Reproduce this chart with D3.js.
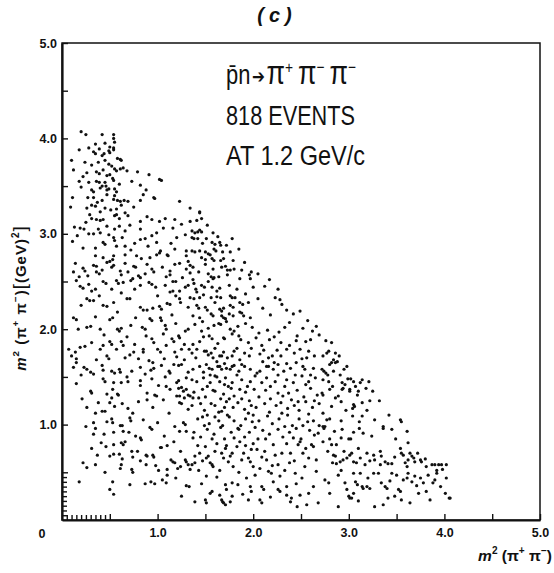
<!DOCTYPE html>
<html>
<head>
<meta charset="utf-8">
<script src="https://cdn.jsdelivr.net/npm/d3@7"></script>
<style>
  body { margin: 0; background: #fff; }
  svg { display: block; }
</style>
</head>
<body>
<svg id="chart" width="554" height="573"></svg>
<script>
// Dalitz plot of pbar n -> pi+ pi- pi- : each dot is one (m²(π+π−), m²(π+π−)) pair, GeV².
const upperLeft = [
  [0.20,4.07],[0.25,4.04],[0.42,4.04],[0.54,4.04],[0.54,4.00],[0.55,3.96],[0.35,3.94],[0.45,3.95],[0.50,3.91],[0.18,3.88],
  [0.33,3.86],[0.35,3.84],[0.39,3.89],[0.42,3.82],[0.49,3.87],[0.50,3.85],[0.54,3.88],[0.54,3.90],[0.58,3.79],[0.61,3.78],
  [0.62,3.77],[0.38,3.75],[0.45,3.77],[0.49,3.73],[0.52,3.71],[0.24,3.75],[0.55,3.68],[0.57,3.66],[0.61,3.68],[0.64,3.69],
  [0.68,3.66],[0.12,3.67],[0.26,3.64],[0.36,3.65],[0.39,3.63],[0.43,3.67],[0.47,3.61],[0.50,3.62],[0.53,3.58],[0.54,3.56],
  [0.79,3.65],[0.91,3.62],[1.02,3.57],[1.04,3.56],[0.18,3.55],[0.28,3.54],[0.36,3.55],[0.39,3.54],[0.45,3.54],[0.46,3.50],
  [0.73,3.55],[0.82,3.51],[0.20,3.49],[0.31,3.46],[0.33,3.44],[0.40,3.48],[0.42,3.50],[0.47,3.46],[0.49,3.47],[0.55,3.47],
  [0.57,3.44],[0.55,3.40],[0.11,3.38],[0.33,3.38],[0.42,3.35],[0.54,3.36],[0.58,3.35],[0.61,3.34],[0.65,3.35],[0.69,3.34],
  [0.82,3.35],[0.96,3.38],[0.97,3.37],[1.23,3.34],[0.09,3.28],[0.26,3.27],[0.31,3.30],[0.35,3.29],[0.45,3.27],[0.40,3.23],
  [0.57,3.26],[0.62,3.30],[0.29,3.20],[0.31,3.16],[0.36,3.15],[0.40,3.14],[0.43,3.15],[0.55,3.19],[0.57,3.20],[0.60,3.16],
  [0.69,3.19],[0.82,3.13],[0.89,3.18],[0.94,3.15],[1.02,3.13],[1.08,3.16],[1.18,3.15],[1.16,3.06],[0.19,3.06],[0.23,3.05],
  [0.28,3.00],[0.33,3.00],[0.38,3.05],[0.40,3.01],[0.47,3.08],[0.55,3.05],[0.60,3.08],[0.66,3.03],[0.71,3.09],[0.82,3.05],
  [0.87,2.95],[0.94,2.98],[0.99,3.01],[1.06,3.06],[1.20,2.96],[1.29,2.99],[0.11,2.92],[0.22,2.85],[0.35,2.85],[0.43,2.91],
  [0.45,2.89],[0.54,2.96],[0.55,2.93],[0.57,2.87],[0.66,2.87],[0.76,2.90],[0.82,2.94],[0.90,2.87],[0.99,2.91],[1.03,2.82],
  [1.10,2.78],[1.18,2.84],[1.30,2.82],[0.35,2.77],[0.43,2.75],[0.54,2.77],[0.66,2.78],[0.78,2.77],[0.92,2.75],[0.99,2.78],
  [1.11,2.77],[1.30,2.77],[0.10,3.77],[0.13,3.07],
  [0.28,3.90],[0.31,3.72],[0.22,3.60],[0.47,3.41],[0.37,3.33],[0.51,3.25],[0.66,3.22],[0.75,3.28],[0.85,3.41],[0.25,3.12],
  [0.16,2.98],[0.49,2.99],[0.63,2.96],[0.72,2.83],[1.14,2.90],[1.25,3.10],[0.88,3.46],[0.60,3.52],[0.27,3.38],[0.44,3.84]
];

const middleLeft = [
  [0.14,2.69],[0.12,2.60],[0.22,2.64],[0.24,2.61],[0.33,2.67],[0.36,2.66],[0.36,2.60],[0.39,2.58],[0.47,2.70],[0.50,2.71],
  [0.53,2.73],[0.52,2.65],[0.54,2.67],[0.61,2.61],[0.62,2.57],[0.69,2.60],[0.75,2.66],[0.77,2.65],[0.83,2.74],[0.89,2.68],
  [0.94,2.63],[0.96,2.60],[1.02,2.80],[1.13,2.61],[1.18,2.68],[1.23,2.69],[1.32,2.71],[1.30,2.63],[1.34,2.59],
  [0.19,2.45],[0.22,2.43],[0.15,2.51],[0.28,2.47],[0.31,2.40],[0.43,2.50],[0.46,2.48],[0.52,2.42],[0.57,2.51],[0.59,2.48],
  [0.64,2.49],[0.72,2.51],[0.74,2.53],[0.80,2.56],[0.82,2.54],[0.82,2.46],[0.91,2.49],[0.94,2.47],[0.98,2.44],[1.09,2.55],
  [1.13,2.57],[1.08,2.46],[1.16,2.50],[1.19,2.50],[1.13,2.39],[1.16,2.40],[1.23,2.40],[1.29,2.44],[1.32,2.46],
  [0.26,2.32],[0.29,2.30],[0.33,2.30],[0.39,2.35],[0.43,2.25],[0.47,2.24],[0.54,2.28],[0.68,2.32],[0.71,2.32],[0.82,2.23],
  [0.85,2.20],[0.89,2.20],[0.95,2.22],[1.02,2.24],[1.04,2.21],[1.10,2.27],[1.13,2.26],[1.23,2.32],[1.24,2.28],[1.32,2.23],
  [0.12,2.12],[0.15,2.10],[0.17,2.00],[0.26,2.02],[0.30,2.03],[0.40,2.00],[0.50,2.10],[0.53,2.12],[0.58,2.00],[0.60,1.98],
  [0.62,2.01],[0.72,2.04],[0.84,2.02],[0.87,2.00],[0.92,2.11],[0.94,2.09],[1.03,2.12],[1.04,2.09],[1.08,2.04],[1.09,2.00],
  [1.19,2.06],[1.22,1.93],[1.23,1.91],[1.29,1.98],[1.32,2.00],
  [0.07,1.79],[0.10,1.72],[0.14,1.76],[0.15,1.69],[0.19,1.81],[0.24,1.82],[0.12,1.60],[0.15,1.65],[0.23,1.60],[0.26,1.58],
  [0.40,1.79],[0.43,1.83],[0.50,1.87],[0.52,1.84],[0.47,1.72],[0.49,1.69],[0.57,1.79],[0.62,1.87],[0.64,1.83],[0.71,1.73],
  [0.75,1.76],[0.76,1.84],[0.85,1.79],[0.85,1.76],[0.94,1.90],[0.96,1.86],[1.00,1.79],[1.03,1.76],[0.91,1.67],[0.95,1.65],
  [1.09,1.83],[1.15,1.90],[1.17,1.87],[1.18,1.76],[1.20,1.71],[1.25,1.79],[1.28,1.84],[1.33,1.79],
  [0.30,1.55],[0.33,1.53],[0.42,1.62],[0.43,1.57],[0.52,1.56],[0.55,1.54],[0.60,1.58],[0.61,1.55],[0.73,1.56],[0.82,1.60],
  [0.93,1.57],[0.96,1.59],[1.04,1.62],[1.12,1.56],[1.13,1.54],[1.22,1.62],[1.25,1.63],[1.32,1.55],
  [0.43,1.48],[0.45,1.45],[0.54,1.44],[0.62,1.44],[0.82,1.46],[0.94,1.48],[1.22,1.46],[1.30,1.49],
  [0.18,2.55],[0.27,2.56],[0.42,2.62],[0.66,2.69],[0.87,2.58],[1.05,2.65],[1.26,2.54],[0.35,2.42],[0.62,2.38],[0.76,2.42],
  [1.00,2.35],[1.19,2.35],[0.20,2.25],[0.58,2.18],[0.77,2.12],[1.15,2.15],[0.35,2.13],[0.44,1.94],[0.68,1.92],[0.88,1.93],
  [1.06,1.95],[0.31,1.86],[0.66,1.70],[1.07,1.69],[1.28,1.68],[0.36,1.68],[0.20,1.52],[0.68,1.50],[0.87,1.53],[1.08,1.50],
  [1.17,1.63],[0.80,1.69]
];

const lowerLeft = [
  [0.15,1.43],[0.30,1.35],[0.31,1.33],[0.47,1.32],[0.52,1.28],[0.53,1.37],[0.58,1.32],[0.59,1.31],[0.69,1.45],[0.82,1.41],
  [0.89,1.33],[0.89,1.26],[0.97,1.31],[0.99,1.30],[1.01,1.41],[1.09,1.40],[1.13,1.37],[1.20,1.44],[1.22,1.38],[1.25,1.39],
  [1.27,1.35],[1.30,1.37],[1.32,1.31],[1.34,1.30],[1.28,1.28],[1.20,1.30],[1.23,1.30],[1.23,1.23],[1.25,1.22],[1.37,1.28],
  [1.32,1.16],[0.38,1.23],[0.50,1.23],[0.55,1.19],[0.35,1.12],[0.42,1.14],[0.45,1.14],[0.47,1.03],[0.52,1.06],[0.53,1.02],
  [0.61,0.99],[0.63,0.99],[0.69,1.17],[0.74,1.12],[0.71,1.07],[0.72,1.04],[0.33,1.02],[0.35,0.96],[0.33,0.90],[0.54,0.92],
  [0.64,0.93],[0.77,0.88],[0.82,0.86],[0.83,0.84],[0.92,0.97],[0.94,0.95],[1.23,0.93],[1.30,0.93],[1.27,1.02],[1.29,1.00],
  [1.37,0.86],[0.41,0.81],[0.46,0.77],[0.54,0.79],[0.62,0.81],[0.66,0.82],[0.64,0.79],[0.60,0.69],[0.50,0.67],[0.54,0.69],
  [0.31,0.75],[0.73,0.72],[0.79,0.72],[0.74,0.66],[0.63,0.64],[0.62,0.58],[0.61,0.54],[0.73,0.53],[0.74,0.50],[0.88,0.68],
  [0.89,0.67],[0.95,0.68],[0.96,0.66],[1.03,0.76],[1.04,0.76],[1.10,0.78],[0.88,0.58],[0.98,0.57],[1.01,0.52],[1.10,0.53],
  [1.10,0.47],[1.16,0.61],[1.18,0.60],[1.21,0.54],[1.24,0.56],[1.29,0.63],[1.30,0.61],[1.32,0.58],[1.34,0.53],[1.39,0.60],
  [1.14,0.63],[1.19,0.44],[0.22,0.60],[0.26,0.55],[0.35,0.58],[0.53,0.40],[0.50,0.32],[0.54,0.27],[0.71,0.37],[0.87,0.38],
  [0.93,0.40],[0.97,0.38],[1.09,0.39],[1.30,0.36],[1.33,0.35],
  [0.21,1.27],[0.26,1.18],[0.63,1.22],[0.80,1.24],[0.95,1.18],[1.06,1.26],[1.12,1.12],[0.85,1.05],[1.00,1.02],[1.18,0.98],
  [0.25,0.98],[0.44,0.90],[0.70,0.92],[1.07,0.88],[1.17,0.82],[0.37,0.68],[0.82,0.62],[1.24,0.72],[0.45,0.50],[1.05,0.42],
  [0.18,0.40],[1.25,0.25]
];

const upperCentre = [
  [1.34,3.27],[1.44,3.23],[1.44,3.22],[1.46,3.16],[1.41,3.14],[1.34,3.13],[1.36,3.03],[1.39,3.01],[1.42,3.02],[1.44,3.04],
  [1.46,3.02],[1.58,3.01],[1.36,2.96],[1.38,2.95],[1.42,2.95],[1.51,2.95],[1.57,2.91],[1.60,2.89],[1.65,2.91],[1.66,2.88],
  [1.72,2.88],[1.36,2.82],[1.39,2.81],[1.44,2.82],[1.50,2.81],[1.53,2.79],[1.55,2.78],[1.59,2.84],[1.61,2.82],[1.68,2.81],
  [1.76,2.81],[1.85,2.84],[1.46,2.75],[1.50,2.73],[1.57,2.74],[1.59,2.72],[1.66,2.72],[1.69,2.74],[1.79,2.72],[1.34,2.67],
  [1.37,2.65],[1.43,2.60],[1.50,2.68],[1.53,2.58],[1.56,2.55],[1.58,2.53],[1.59,2.54],[1.64,2.55],[1.58,2.63],[1.67,2.65],
  [1.71,2.66],[1.73,2.62],[1.76,2.62],[1.80,2.63],[1.73,2.57],[1.86,2.53],[1.96,2.57],[1.98,2.60],[1.97,2.53],[2.05,2.58],
  [2.17,2.52],[2.12,2.45],[1.37,2.52],[1.38,2.48],[1.46,2.46],[1.49,2.44],[1.40,2.42],[1.41,2.39],[1.57,2.44],[1.65,2.43],
  [1.75,2.46],[1.83,2.42],[1.34,2.33],[1.38,2.32],[1.44,2.33],[1.48,2.36],[1.56,2.33],[1.62,2.34],[1.66,2.33],[1.76,2.35],
  [1.78,2.33],[1.81,2.33],[1.86,2.28],[1.89,2.26],[1.95,2.28],[2.05,2.32],[2.23,2.33],[2.28,2.31],[2.30,2.26],[1.41,2.25],
  [1.43,2.22],[1.50,2.23],[1.52,2.20],[1.65,2.21],[1.67,2.19],[1.69,2.22],[1.76,2.25],[1.79,2.23],[1.86,2.18],[1.88,2.17],
  [1.37,2.14],[1.44,2.12],[1.56,2.16],[1.58,2.14],[1.67,2.14],[1.69,2.12],[1.71,2.11],[1.75,2.16],[1.79,2.14],[1.90,2.14],
  [1.97,2.12],[2.42,2.16],[2.49,2.19],
  [1.52,3.09],[1.63,2.97],[1.78,2.95],[1.91,2.70],[2.00,2.44],[1.92,2.37],[2.10,2.22],[2.18,2.15],[1.60,2.28],[1.53,2.50],
  [1.88,2.62],[2.26,2.42],[2.35,2.20],[1.47,2.90],[1.62,2.40]
];

const centre = [
  [1.39,2.05],[1.47,2.08],[1.53,2.01],[1.59,2.04],[1.64,2.06],[1.66,2.05],[1.72,2.08],[1.76,2.00],[1.84,2.03],[1.92,2.06],
  [1.99,2.02],[2.15,1.99],[2.27,1.97],[2.38,2.07],[2.52,2.01],[2.57,2.09],[2.66,2.03],
  [1.37,1.84],[1.44,1.87],[1.48,1.92],[1.54,1.93],[1.57,1.90],[1.63,1.85],[1.69,1.91],[1.70,1.90],[1.78,1.95],[1.85,1.93],
  [1.87,1.89],[1.95,1.86],[2.03,1.91],[2.09,1.83],[2.17,1.89],[2.22,1.92],[2.29,1.86],[2.38,1.83],[2.46,1.93],[2.55,1.87],
  [2.60,1.89],[2.69,1.94],
  [1.36,1.75],[1.41,1.79],[1.49,1.77],[1.51,1.77],[1.53,1.73],[1.56,1.75],[1.58,1.70],[1.65,1.72],[1.67,1.72],[1.69,1.76],
  [1.73,1.70],[1.78,1.72],[1.80,1.77],[1.86,1.68],[1.91,1.75],[1.96,1.72],[2.07,1.74],[2.11,1.78],[2.16,1.70],[2.20,1.72],
  [2.29,1.72],[2.35,1.79],[2.43,1.75],[2.49,1.79],[2.51,1.69],[2.58,1.77],[2.64,1.72],
  [1.37,1.58],[1.44,1.61],[1.51,1.63],[1.54,1.59],[1.57,1.58],[1.63,1.61],[1.65,1.61],[1.67,1.58],[1.72,1.59],[1.76,1.58],
  [1.78,1.61],[1.80,1.62],[1.85,1.56],[1.91,1.61],[1.97,1.58],[2.04,1.54],[2.07,1.56],[2.14,1.61],[2.16,1.61],[2.21,1.58],
  [2.26,1.63],[2.32,1.56],[2.39,1.59],[2.45,1.65],[2.52,1.61],[2.54,1.58],[2.63,1.59],
  [1.36,1.47],[1.41,1.45],[1.48,1.49],[1.55,1.44],[1.60,1.51],[1.62,1.50],[1.65,1.45],[1.71,1.49],[1.78,1.44],[1.83,1.52],
  [1.88,1.47],[1.97,1.45],[2.02,1.51],[2.09,1.44],[2.14,1.49],[2.23,1.45],[2.26,1.52],[2.35,1.47],[2.42,1.44],[2.51,1.51],
  [2.58,1.45],[2.65,1.49],
  [1.38,1.34],[1.47,1.37],[1.50,1.29],[1.58,1.36],[1.60,1.35],[1.66,1.27],[1.69,1.32],[1.77,1.38],[1.80,1.30],[1.88,1.27],
  [1.92,1.34],[2.01,1.37],[2.06,1.29],[2.13,1.36],[2.18,1.27],[2.26,1.33],[2.31,1.30],[2.40,1.26],[2.46,1.36],[2.53,1.29],
  [2.60,1.38],[2.67,1.31],
  [1.36,1.20],[1.45,1.22],[1.49,1.15],[1.56,1.22],[1.64,1.13],[1.67,1.14],[1.72,1.24],[1.79,1.18],[1.84,1.23],[1.91,1.16],
  [1.98,1.20],[2.03,1.18],[2.12,1.22],[2.17,1.13],[2.24,1.20],[2.29,1.23],[2.36,1.17],[2.43,1.20],[2.48,1.15],[2.55,1.24],
  [2.62,1.18],[2.69,1.22],
  [1.42,1.06],[1.47,1.08],[1.54,1.01],[1.60,1.08],[1.68,0.99],[1.73,1.10],[1.75,1.08],[1.80,1.04],[1.87,0.99],[1.92,1.06],
  [1.99,1.03],[2.06,1.04],[2.15,1.09],[2.20,1.01],[2.27,1.06],[2.36,1.10],[2.41,0.99],[2.48,1.06],[2.57,1.03],[2.63,1.04],
  [2.69,0.99],
  [1.38,0.92],[1.45,0.87],[1.52,0.95],[1.59,0.90],[1.66,0.97],[1.70,0.85],[1.77,0.92],[1.84,0.96],[1.85,0.95],[1.91,0.87],
  [1.96,0.92],[2.05,0.85],[2.10,0.94],[2.17,0.90],[2.26,0.95],[2.31,0.87],[2.38,0.92],[2.45,0.96],[2.50,0.85],[2.59,0.94],
  [2.64,0.89],
  [1.62,1.66],[1.70,1.64],[1.83,1.80],[1.94,1.40],[2.33,1.40],[2.44,1.52],[1.60,1.20],[2.00,1.10],[2.22,1.65],[1.74,1.40],
  [2.47,1.24],[1.55,1.52],
  [1.46,1.98],[1.80,1.98],[2.06,1.96],[2.33,2.02],[2.45,1.88],[2.62,1.98],[1.40,1.70],[1.60,1.80],[1.98,1.80],[2.25,1.78],
  [2.56,1.70],[1.48,1.55],[1.88,1.63],[2.10,1.66],[2.35,1.64],[2.60,1.52],[1.52,1.40],[1.70,1.42],[1.86,1.37],[2.18,1.40],
  [2.55,1.42],[1.43,1.28],[1.75,1.27],[1.96,1.25],[2.37,1.33],[2.64,1.25],[1.52,1.10],[1.70,1.18],[1.95,1.12],[2.30,1.12],
  [2.58,1.11],[1.49,0.99],[1.64,1.04],[2.02,0.97],[2.33,0.98],[2.52,0.99],[1.57,0.85],[1.80,0.86],[2.13,0.85],[2.42,0.86],
  [2.68,0.91]
];

const lowerCentre = [
  [1.39,0.67],[1.44,0.70],[1.50,0.77],[1.51,0.65],[1.53,0.67],[1.55,0.60],[1.57,0.58],[1.58,0.56],[1.67,0.70],[1.69,0.65],
  [1.71,0.75],[1.72,0.78],[1.76,0.67],[1.78,0.70],[1.79,0.56],[1.83,0.77],[1.86,0.82],[1.90,0.70],[1.95,0.65],[1.97,0.61],
  [1.98,0.74],[2.04,0.74],[2.07,0.54],[2.12,0.72],[2.16,0.51],[2.19,0.49],[2.23,0.68],[2.26,0.58],[2.30,0.70],[2.35,0.80],
  [2.39,0.70],[2.44,0.49],[2.47,0.79],[2.49,0.82],[2.54,0.56],[2.58,0.65],[2.61,0.79],[2.63,0.77],[2.66,0.51],
  [1.51,0.46],[1.71,0.37],[1.78,0.39],[1.72,0.32],[1.97,0.35],[1.98,0.30],[2.09,0.35],[2.11,0.32],[2.26,0.32],[2.28,0.30],
  [2.35,0.35],[2.39,0.19],[2.40,0.23],[2.49,0.26],[2.58,0.28],[2.68,0.18],[1.39,0.19],[1.50,0.21],[1.51,0.18],[1.55,0.28],
  [1.57,0.30],[1.65,0.26],[1.67,0.21],[1.68,0.19],[1.69,0.18],[1.71,0.16],[1.76,0.19],[1.78,0.25],[1.95,0.21],[2.07,0.21],
  [2.09,0.18],[2.56,0.16],[2.35,0.26],
  [1.36,0.58],[1.43,0.52],[1.62,0.45],[1.85,0.50],[1.93,0.44],[2.02,0.47],[2.21,0.40],[2.33,0.52],[2.51,0.44],[1.46,0.38],
  [1.62,0.80],[1.88,0.63],[2.00,0.80],[2.14,0.63],[2.43,0.62],[2.55,0.75],[1.47,0.62],[2.21,0.79],
  [1.42,0.78],[1.60,0.72],[1.74,0.61],[1.92,0.78],[2.09,0.66],[2.20,0.57],[2.38,0.60],[2.52,0.70],[2.66,0.63],[1.65,0.52],
  [2.00,0.56],[2.28,0.46],[2.45,0.38],[2.63,0.35],[1.89,0.27],[2.18,0.24],[2.46,0.14],[1.84,0.37]
];

const rightCentre = [
  [2.82,1.86],[2.79,1.77],[2.77,1.75],[2.86,1.75],[2.73,1.72],[2.84,1.68],[2.82,1.65],[2.80,1.63],[2.86,1.65],[2.88,1.66],
  [2.72,1.58],[2.74,1.56],[2.76,1.54],[2.78,1.52],[2.84,1.56],[2.98,1.61],[2.91,1.52],[2.73,1.47],[2.79,1.45],[2.93,1.44],
  [2.96,1.42],[2.99,1.48],[3.02,1.48],[3.05,1.45],[3.12,1.44],[3.14,1.47],[3.21,1.45],[2.94,1.38],[2.93,1.37],[3.01,1.37],
  [3.01,1.35],[3.10,1.35],[3.09,1.31],[3.25,1.35],[2.73,1.31],[2.72,1.33],[2.83,1.40],[2.80,1.37],[2.89,1.30],[2.92,1.24],
  [3.05,1.21],[3.06,1.19],[3.04,1.17],[3.14,1.23],[3.22,1.25],[3.32,1.25],[2.82,1.19],[2.73,1.12],[3.04,1.09],[3.11,1.03],
  [3.14,1.09],[2.92,1.04],[2.77,1.05],[2.80,1.06],[2.75,0.98],[2.73,0.98],[2.74,0.96],[2.93,0.95],[3.54,1.05],[3.55,1.03],
  [3.36,0.98],[3.36,0.96],[3.61,0.93],[3.11,0.96],[3.15,0.91],[3.49,0.85],[2.80,0.85],[2.92,0.86],[3.00,0.85],[3.02,0.85],
  [2.76,1.88],[2.90,1.72],[2.95,1.58],[3.07,1.40],[3.18,1.38],[2.86,1.28],[2.97,1.15],[3.19,1.15],[3.27,1.05],[2.85,0.93],
  [3.05,0.92],[3.24,0.88],[3.45,0.95],[3.42,1.10]
];

const lowerRight = [
  [2.73,0.82],[2.82,0.79],[2.87,0.79],[2.84,0.68],[2.86,0.67],[2.83,0.60],[2.87,0.59],[2.91,0.61],[2.94,0.63],[2.98,0.65],
  [3.01,0.68],[3.03,0.70],[3.05,0.61],[3.08,0.60],[3.12,0.65],[3.17,0.58],[3.19,0.70],[3.26,0.68],[3.27,0.63],[3.33,0.72],
  [3.34,0.67],[3.33,0.58],[3.38,0.61],[3.41,0.59],[3.45,0.59],[3.54,0.75],[3.55,0.70],[3.57,0.68],[3.59,0.60],[3.61,0.56],
  [3.62,0.63],[3.64,0.70],[3.66,0.67],[3.68,0.65],[3.69,0.61],[3.75,0.63],[3.76,0.61],[3.81,0.56],[3.87,0.58],[3.90,0.58],
  [3.94,0.58],[3.97,0.58],[4.02,0.58],[3.62,0.81],
  [2.75,0.42],[2.79,0.39],[2.89,0.47],[2.96,0.39],[2.98,0.32],[3.00,0.25],[3.01,0.23],[3.03,0.23],[3.05,0.49],[3.07,0.40],
  [3.09,0.37],[3.12,0.49],[3.14,0.35],[3.15,0.33],[3.19,0.35],[3.22,0.33],[3.26,0.49],[3.31,0.49],[3.34,0.39],[3.38,0.35],
  [3.40,0.33],[3.41,0.23],[3.45,0.49],[3.48,0.25],[3.50,0.47],[3.52,0.32],[3.54,0.30],[3.57,0.42],[3.61,0.44],[3.62,0.49],
  [3.66,0.40],[3.69,0.46],[3.73,0.28],[3.75,0.44],[3.78,0.39],[3.81,0.30],[3.83,0.47],[3.85,0.21],[3.88,0.39],[3.90,0.42],
  [3.92,0.49],[4.01,0.28],[4.02,0.44],[4.06,0.23],[2.89,0.14],[3.27,0.14],[3.36,0.16],[3.64,0.18],[3.05,0.28],[2.80,0.28],
  [3.98,0.53],[4.05,0.23],
  [2.78,0.72],[2.95,0.72],[3.10,0.75],[3.22,0.62],[3.48,0.66],[3.72,0.70],[3.80,0.64],[3.92,0.52],[2.92,0.52],[3.20,0.44],
  [3.43,0.41],[3.71,0.36],[3.96,0.35],[3.10,0.20],[3.55,0.21]
];

// Axis ticks (GeV²)
const majorTicks = [0.5, 1.0, 1.5, 2.0, 2.5, 3.0, 3.5, 4.0, 4.5, 5.0];
const minorTicks = [0.05, 0.10, 0.15, 0.20, 0.25, 0.30, 0.35, 0.40, 0.45];
const labelledTicks = [1, 2, 3, 4, 5];

const events = [].concat(upperLeft, middleLeft, lowerLeft, upperCentre, centre, lowerCentre, rightCentre, lowerRight);

const svg = d3.select("#chart");
const ink = "#111";
const labelFont = "'Liberation Sans', Arial, Helvetica, sans-serif";
const noteFont = "'Liberation Sans Narrow', 'Liberation Sans', Arial, sans-serif";

svg.append("rect").attr("width", 554).attr("height", 573).attr("fill", "#fff");

const x = d3.scaleLinear().domain([0, 5]).range([62, 540]);
const y = d3.scaleLinear().domain([0, 5]).range([520, 43]);

// plot frame (top and right sides)
svg.append("rect")
  .attr("x", x(0)).attr("y", y(5))
  .attr("width", x(5) - x(0)).attr("height", y(0) - y(5))
  .attr("fill", "none").attr("stroke", ink).attr("stroke-width", 1.5);

const tickLabel = d => labelledTicks.includes(d) ? d.toFixed(1) : "";

function styleAxis(g, domainWidth) {
  g.select(".domain").attr("stroke", ink).attr("stroke-width", domainWidth);
  g.selectAll(".tick line").attr("stroke", ink).attr("stroke-width", 1.4);
  g.selectAll(".tick text")
    .attr("fill", ink)
    .attr("font-family", labelFont)
    .attr("font-weight", "bold")
    .attr("font-size", 12.5);
}

// x axis: inward ticks every 0.5, fine comb every 0.05 near the origin
svg.append("g")
  .attr("transform", `translate(0,${y(0)})`)
  .call(d3.axisBottom(x).tickValues(majorTicks).tickSizeInner(-6).tickSizeOuter(0).tickPadding(8).tickFormat(tickLabel))
  .call(g => styleAxis(g, 2.2));
svg.append("g")
  .attr("transform", `translate(0,${y(0)})`)
  .call(d3.axisBottom(x).tickValues(minorTicks).tickSize(-5).tickFormat(""))
  .call(g => g.select(".domain").remove())
  .call(g => styleAxis(g, 0));

// y axis
svg.append("g")
  .attr("transform", `translate(${x(0)},0)`)
  .call(d3.axisLeft(y).tickValues(majorTicks).tickSizeInner(-6).tickSizeOuter(0).tickPadding(5).tickFormat(tickLabel))
  .call(g => styleAxis(g, 2.2));
svg.append("g")
  .attr("transform", `translate(${x(0)},0)`)
  .call(d3.axisLeft(y).tickValues(minorTicks).tickSize(-5).tickFormat(""))
  .call(g => g.select(".domain").remove())
  .call(g => styleAxis(g, 0));

// shared origin label
svg.append("text")
  .attr("x", x(0) - 20).attr("y", y(0) + 18)
  .attr("text-anchor", "middle")
  .attr("font-family", labelFont).attr("font-weight", "bold").attr("font-size", 12.5)
  .attr("fill", ink).text("0");

// events
svg.append("g")
  .selectAll("circle")
  .data(events)
  .join("circle")
  .attr("cx", d => x(d[0]))
  .attr("cy", d => y(d[1]))
  .attr("r", 1.6)
  .attr("fill", ink);

// helper for mass-squared labels: m²(π+π−)
function massLabel(t, size) {
  const sup = size * 0.65;
  t.append("tspan").attr("font-style", "italic").text("m");
  t.append("tspan").attr("font-size", sup).attr("dy", -size * 0.45).text("2");
  t.append("tspan").attr("dy", size * 0.45).text(" (π");
  t.append("tspan").attr("font-size", sup).attr("dy", -size * 0.45).text("+");
  t.append("tspan").attr("dy", size * 0.45).text(" π");
  t.append("tspan").attr("font-size", sup).attr("dy", -size * 0.45).text("−");
  t.append("tspan").attr("dy", size * 0.45).text(")");
}

// x-axis title
const xt = svg.append("text")
  .attr("x", 552).attr("y", 561)
  .attr("text-anchor", "end")
  .attr("font-family", labelFont).attr("font-weight", "bold").attr("font-size", 15.5)
  .attr("fill", ink);
massLabel(xt, 15.5);

// y-axis title
const yt = svg.append("text")
  .attr("transform", "translate(26,298) rotate(-90)")
  .attr("text-anchor", "middle")
  .attr("font-family", labelFont).attr("font-weight", "bold").attr("font-size", 15)
  .attr("letter-spacing", 1)
  .attr("fill", ink);
massLabel(yt, 15);
yt.append("tspan").attr("font-size", 19).attr("font-weight", "normal").text("[");
yt.append("tspan").text("(GeV)");
yt.append("tspan").attr("font-size", 10).attr("dy", -6.6).text("2");
yt.append("tspan").attr("font-size", 19).attr("font-weight", "normal").attr("dy", 6.6).text("]");

// panel title
svg.append("text")
  .attr("x", 277).attr("y", 22)
  .attr("text-anchor", "middle")
  .attr("font-family", labelFont).attr("font-weight", "bold").attr("font-style", "italic")
  .attr("font-size", 20).attr("letter-spacing", 5)
  .attr("fill", ink).text("(c)");

// reaction note; the first line is laid out piece by piece, then fitted to its width
const note = svg.append("g").attr("font-family", noteFont).attr("fill", ink);
const reactionPieces = [
  { t: "p\u0304n", size: 27, rise: 0, gap: 2 },
  { t: "\u2794", size: 19, rise: 1, gap: 2, font: "'DejaVu Sans', sans-serif" },
  { t: "π", size: 33, rise: 0, gap: 0 },
  { t: "+", size: 17, rise: 11, gap: 6 },
  { t: "π", size: 33, rise: 0, gap: 0 },
  { t: "−", size: 17, rise: 11, gap: 6 },
  { t: "π", size: 33, rise: 0, gap: 0 },
  { t: "−", size: 17, rise: 11, gap: 0 }
];
const line1 = note.append("g");
let cursor = 0;
reactionPieces.forEach(p => {
  const t = line1.append("text")
    .attr("x", cursor).attr("y", -p.rise)
    .attr("font-size", p.size)
    .text(p.t);
  if (p.font) t.attr("font-family", p.font);
  cursor += t.node().getComputedTextLength() + p.gap;
});
line1.attr("transform", `translate(226,84) scale(${130 / cursor},1)`);

note.append("text").attr("x", 226).attr("y", 125).attr("font-size", 27)
  .attr("textLength", 129).attr("lengthAdjust", "spacingAndGlyphs").text("818 EVENTS");
note.append("text").attr("x", 226).attr("y", 165).attr("font-size", 27)
  .attr("textLength", 139).attr("lengthAdjust", "spacingAndGlyphs").text("AT  1.2  GeV/c");
</script>
</body>
</html>
